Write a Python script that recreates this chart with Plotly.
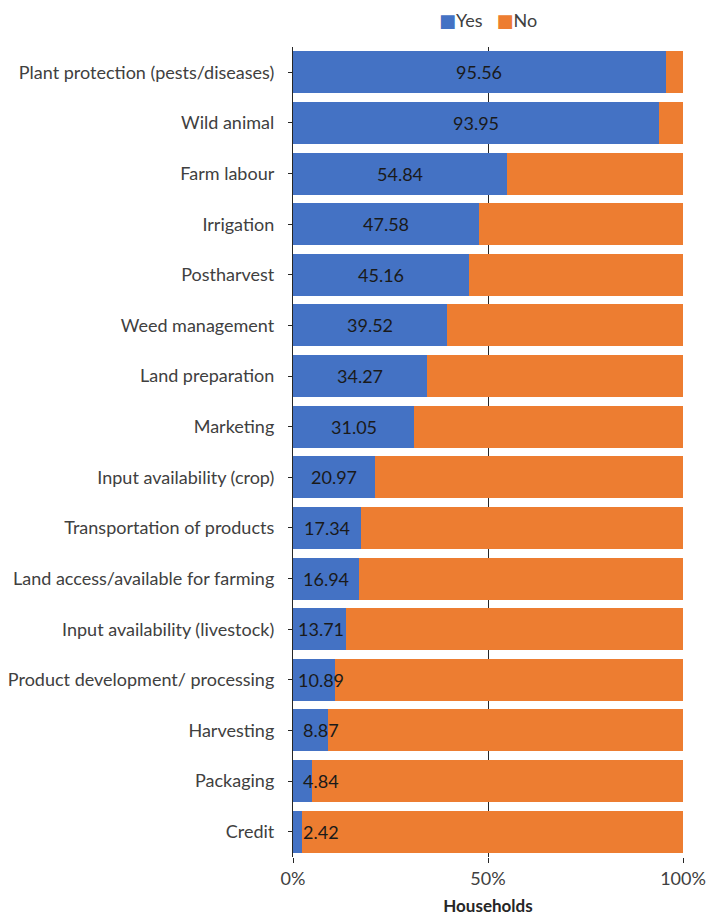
import plotly.graph_objects as go

# Constraint categories, top to bottom
categories = [
    "Plant protection (pests/diseases)",
    "Wild animal",
    "Farm labour",
    "Irrigation",
    "Postharvest",
    "Weed management",
    "Land preparation",
    "Marketing",
    "Input availability (crop)",
    "Transportation of products",
    "Land access/available for farming",
    "Input availability (livestock)",
    "Product development/ processing",
    "Harvesting",
    "Packaging",
    "Credit",
]

# Share of households (%)
yes_pct = [95.56, 93.95, 54.84, 47.58, 45.16, 39.52, 34.27, 31.05,
           20.97, 17.34, 16.94, 13.71, 10.89, 8.87, 4.84, 2.42]
no_pct = [4.44, 6.05, 45.16, 52.42, 54.84, 60.48, 65.73, 68.95,
          79.03, 82.66, 83.06, 86.29, 89.11, 91.13, 95.16, 97.58]

series_names = ["Yes", "No"]

tick_vals = [0, 50, 100]
tick_text = ["0%", "50%", "100%"]

FONT = "Lato"
BLUE = "#4472C4"
ORANGE = "#ED7D31"
AXIS = "#262626"
colors = [BLUE, ORANGE]

fig = go.Figure()
for name, vals, col in zip(series_names, [yes_pct, no_pct], colors):
    fig.add_trace(go.Bar(y=categories, x=vals, name=name, orientation="h",
                         marker=dict(color=col, line=dict(width=0)),
                         showlegend=False))

# Value labels centred on the "Yes" segment, kept clear of the axis for short bars
label_min_x = 7.2
for cat, v in zip(categories, yes_pct):
    fig.add_annotation(x=max(v / 2, label_min_x), y=cat, text=f"{v:.2f}",
                       showarrow=False, xanchor="center", yanchor="middle",
                       font=dict(family=FONT, size=18, color="#1a1a1a"))

# Compact key above the plot: coloured square followed by series name
key_text = "   ".join(
    f'<span style="color:{c};font-family:DejaVu Sans">■</span>{n}'
    for n, c in zip(series_names, colors)
)
fig.add_annotation(xref="paper", yref="paper", x=0.5, y=1.033,
                   xanchor="center", yanchor="middle", showarrow=False,
                   text=key_text, font=dict(family=FONT, size=18, color="#404040"))

fig.update_layout(
    barmode="stack",
    bargap=0.17,
    width=706,
    height=916,
    margin=dict(l=293, r=23, t=47, b=59, autoexpand=False),
    paper_bgcolor="white",
    plot_bgcolor="white",
    font=dict(family=FONT, size=18, color="#404040"),
    xaxis=dict(range=[0, 100], tickvals=tick_vals, ticktext=tick_text,
               showgrid=True, gridcolor=AXIS, gridwidth=1.3,
               ticks="outside", ticklen=5, tickcolor=AXIS, tickwidth=1.3,
               zeroline=False, showline=False, automargin=False,
               tickfont=dict(size=18, color="#404040"),
               title=dict(text="<b>Households</b>", standoff=12,
                          font=dict(size=17, color="#262626"))),
    yaxis=dict(autorange="reversed", showline=True, linecolor=AXIS,
               linewidth=1.3, ticks="outside", ticklen=4, tickcolor=AXIS,
               ticklabelstandoff=10, automargin=False,
               tickfont=dict(size=18, color="#404040"), showgrid=False),
)

fig.write_html("out.html")
